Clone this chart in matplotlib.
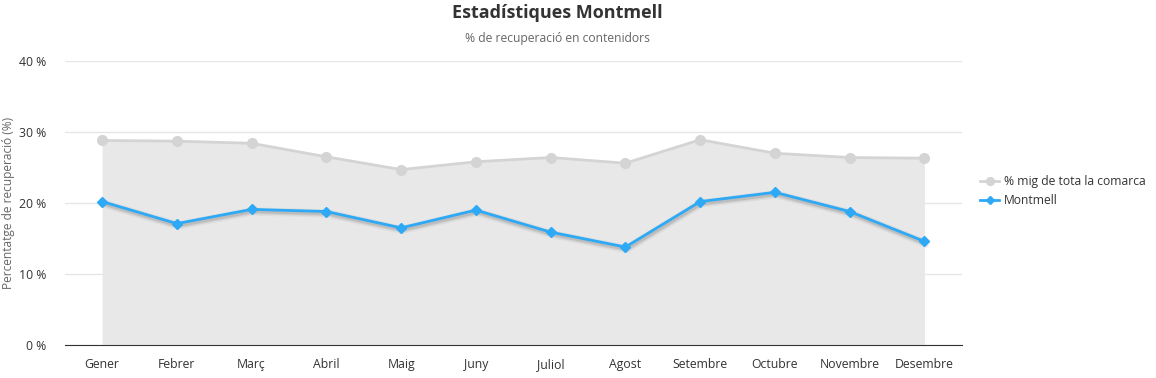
import matplotlib
matplotlib.use("Agg")
from matplotlib import pyplot as plt
from matplotlib import transforms

plt.rcParams['font.family'] = ['Open Sans', 'DejaVu Sans']

mesos = ['Gener', 'Febrer', 'Març', 'Abril', 'Maig', 'Juny', 'Juliol',
         'Agost', 'Setembre', 'Octubre', 'Novembre', 'Desembre']
comarca = [28.8, 28.7, 28.4, 26.5, 24.7, 25.8, 26.4, 25.6, 28.9, 27.0, 26.4, 26.3]
montmell = [20.2, 17.1, 19.1, 18.8, 16.5, 19.0, 15.9, 13.8, 20.2, 21.5, 18.8, 14.6]
yticks = [0, 10, 20, 30, 40]

x = list(range(len(mesos)))

fig = plt.figure(figsize=(11.56, 3.78), dpi=100)
ax = fig.add_axes([0.056, 0.087, 0.776, 0.752])

ax.fill_between(x, comarca, 0, color='#e8e8e8', lw=0, zorder=1)
ax.plot(x, comarca, color='#d4d4d4', lw=2, marker='o', ms=7,
        mfc='#d4d4d4', mec='#d4d4d4', zorder=3, label='% mig de tota la comarca')

# soft shadow under the Montmell line
shift = ax.transData + transforms.ScaledTranslation(0.01, -0.02, fig.dpi_scale_trans)
for lw, a in [(6, 0.05), (4, 0.08), (2.5, 0.12)]:
    ax.plot(x, montmell, color='#333333', lw=lw, alpha=a, zorder=3.5,
            solid_joinstyle='round', transform=shift)

ax.plot(x, montmell, color='#2ea9f5', lw=2, marker='D', ms=5,
        mfc='#2ea9f5', mec='#2ea9f5', zorder=4, label='Montmell')

ax.set_xlim(-0.5, len(mesos) - 0.5)
ax.set_ylim(0, 40)
ax.set_yticks(yticks)
ax.set_yticklabels([f'{v} %' for v in yticks])
ax.set_xticks(x)
ax.set_xticklabels(mesos)
ax.tick_params(axis='both', length=0, labelsize=8.8, colors='#333333')
ax.tick_params(axis='x', pad=9)
ax.tick_params(axis='y', pad=13)
ax.grid(axis='y', color='#e6e6e6', lw=1)
ax.set_axisbelow(True)
for s in ['top', 'right', 'left']:
    ax.spines[s].set_visible(False)
ax.spines['bottom'].set_color('#333333')
ax.spines['bottom'].set_zorder(5)

ax.set_ylabel('Percentatge de recuperació (%)', fontsize=8.6, color='#666666')
ax.yaxis.set_label_coords(-0.0555, 0.5)

fig.text(0.482, 0.965, 'Estadístiques Montmell', ha='center', va='center',
         fontsize=13, fontweight='bold', color='#333333')
fig.text(0.482, 0.897, '% de recuperació en contenidors', ha='center', va='center',
         fontsize=8.7, color='#666666')

ax.legend(loc='center left', bbox_to_anchor=(1.011, 0.542), frameon=False,
          fontsize=8.7, handlelength=1.6, handletextpad=0.4, labelspacing=0.45,
          labelcolor='#333333', borderpad=0.2, markerscale=0.8)

fig.savefig('out.png', dpi=100)
